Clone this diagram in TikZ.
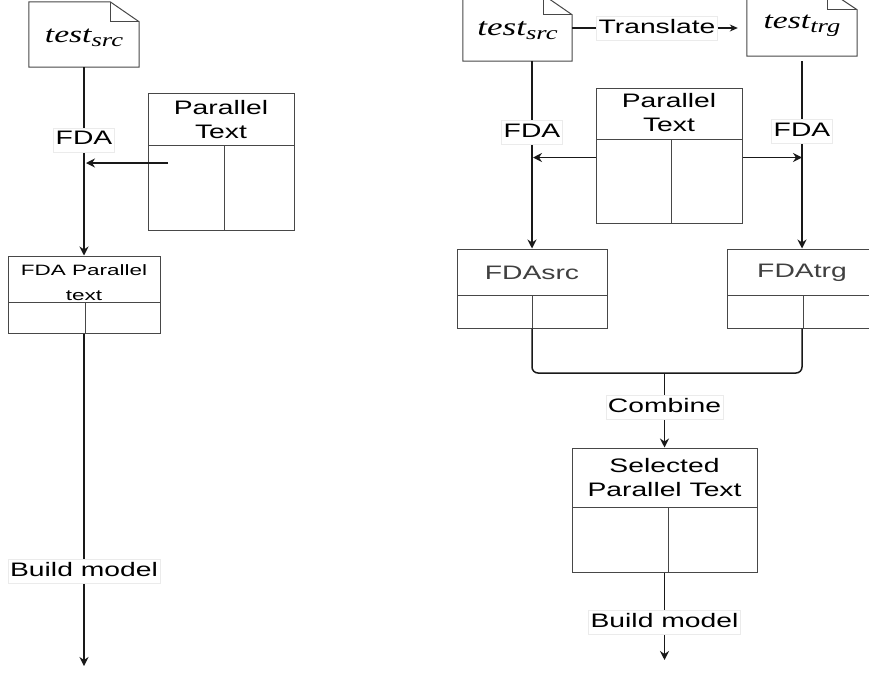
\documentclass[tikz,border=0pt]{standalone}
\usepackage{fontspec}
\usepackage{graphicx}
\usetikzlibrary{arrows.meta}
\newfontfamily\sansA{Liberation Sans}
\newfontfamily\serifA{Liberation Serif}
\newcommand{\hs}[2][1.45]{\scalebox{#1}[1]{#2}}
\newcommand{\tst}[4][1.35]{\hs[#1]{\serifA\itshape\fontsize{#2}{#2}\selectfont test\raisebox{-4pt}{\fontsize{#3}{#3}\selectfont #4}}}
\tikzset{
  conn/.style={line width=1.5pt, draw=black!90},
  arr/.style={conn, -{Stealth[length=9pt,width=9pt]}},
  boxline/.style={draw=black!72, line width=1pt},
  tbl/.style={boxline, rectangle, inner sep=0pt},
  lbl/.style={fill=white, draw=black!8, line width=0.6pt, inner xsep=2pt, inner ysep=2pt,
    text height=15pt, text depth=5pt, font=\sansA\fontsize{19.5}{23.4}\selectfont},
  hdr/.style={inner sep=0pt, font=\sansA\fontsize{19.5}{23.4}\selectfont},
  hdrs/.style={inner sep=0pt, font=\sansA\fontsize{15}{25}\selectfont},
  doc/.style={inner sep=0pt},
}
\begin{document}
\begin{tikzpicture}[x=1pt,y=-1pt]
\useasboundingbox (0,0) rectangle (869,672);
\clip (0,0) rectangle (869,672);

% ---------------- left panel ----------------
\node[doc, minimum width=110pt, minimum height=65pt] (lsrc) at (84,34.5) {};
\node[doc] (lsrct) at (84,38) {\tst[1.4]{24}{19}{src}};
\draw[boxline] (lsrc.south west) -- (lsrc.north west) -- ([xshift=-29pt]lsrc.north east)
  -- ([yshift=-20pt]lsrc.north east) -- (lsrc.south east) -- cycle;
\draw[boxline] ([xshift=-29pt]lsrc.north east) |- ([yshift=-20pt]lsrc.north east);

\node[tbl, minimum width=146pt, minimum height=137pt] (lpt) at (221,161.5) {};
\draw[boxline] (148,145) -- (294,145) (224,145) -- (224,230);
\node[hdr] (lpth) at (221,122) {\hs{\begin{tabular}{@{}c@{}}Parallel\\Text\end{tabular}}};

\node[tbl, minimum width=152pt, minimum height=77pt] (lfpt) at (84,294.5) {};
\draw[boxline] (8,302) -- (160,302) (85,302) -- (85,333);
\node[hdrs] (lfpth) at (84,282.5) {\hs[1.5]{\begin{tabular}{@{}c@{}}FDA Parallel\\text\end{tabular}}};

\draw[arr] (lsrc.south) -- node[lbl, pos=0.386] (lfda) {\hs{FDA}} (lfpt.north);
\coordinate (lptin) at (168,163);
\coordinate (lhit) at (86,163);
\draw[arr, line width=1.2pt] (lptin) -- (lhit);
\coordinate (lend) at (84,666);
\draw[arr] (lfpt.south) -- node[lbl, pos=0.715] (lbm) {\hs{Build model}} (lend);

% ---------------- right panel ----------------
\node[doc, minimum width=109pt, minimum height=66pt] (rsrc) at (517.5,28) {};
\node[doc] (rsrct) at (517.5,31) {\tst[1.4]{25}{19}{src}};
\draw[boxline] (rsrc.south west) -- (rsrc.north west) -- ([xshift=-29pt]rsrc.north east)
  -- ([yshift=-20pt]rsrc.north east) -- (rsrc.south east) -- cycle;
\draw[boxline] ([xshift=-29pt]rsrc.north east) |- ([yshift=-20pt]rsrc.north east);

\node[doc, minimum width=110pt, minimum height=66pt] (rtrg) at (802,23) {};
\node[doc] (rtrgt) at (802,26) {\tst[1.4]{24}{19}{trg}};
\draw[boxline] (rtrg.south west) -- (rtrg.north west) -- ([xshift=-30pt]rtrg.north east)
  -- ([yshift=-20pt]rtrg.north east) -- (rtrg.south east) -- cycle;
\draw[boxline] ([xshift=-30pt]rtrg.north east) |- ([yshift=-20pt]rtrg.north east);

\node[tbl, minimum width=146pt, minimum height=135pt] (rpt) at (669,155.5) {};
\draw[boxline] (596,139) -- (742,139) (671,139) -- (671,223);
\node[hdr] (rpth) at (669,115) {\hs{\begin{tabular}{@{}c@{}}Parallel\\Text\end{tabular}}};

\node[tbl, minimum width=150pt, minimum height=79pt] (fsrc) at (532,288.5) {};
\draw[boxline] (457,295) -- (607,295) (532,295) -- (532,328);
\node[hdr, text=black!75] (fsrct) at (532,273) {\hs{FDAsrc}};

\node[tbl, minimum width=150pt, minimum height=79pt] (ftrg) at (802,288.5) {};
\draw[boxline] (727,295) -- (877,295) (803,295) -- (803,328);
\node[hdr, text=black!75] (ftrgt) at (802,273) {\hs{FDAtrg}};

\draw[arr, line width=1.2pt, -{Stealth[length=8pt,width=7pt]}, shorten >=9pt] (rsrc.east) -- node[lbl, pos=0.486] (trl) {\hs{Translate}} (rtrg.west |- rsrc.east);

\draw[arr] (fsrc.north |- rsrc.south) -- node[lbl, pos=0.38] (rfda1) {\hs{FDA}} (fsrc.north);
\draw[arr, shorten <=5pt] (ftrg.north |- rtrg.south) -- node[lbl, pos=0.39] (rfda2) {\hs{FDA}} (ftrg.north);

\coordinate (ra) at (533,157.5);
\coordinate (rb) at (802,157.5);
\draw[arr, line width=1.2pt] ([yshift=-2pt]rpt.west) -- (ra);
\draw[arr, line width=1.2pt] ([yshift=-2pt]rpt.east) -- (rb);

\coordinate (brk) at (664.5,373);
\draw[conn, rounded corners=6pt] (fsrc.south) |- (brk) -| (ftrg.south);

\node[tbl, minimum width=185pt, minimum height=124pt] (sel) at (664.5,510) {};
\draw[boxline] (572,507) -- (757,507) (668,507) -- (668,572);
\node[hdr] (selh) at (664.5,480) {\hs{\begin{tabular}{@{}c@{}}Selected\\Parallel Text\end{tabular}}};

\draw[arr] (brk) -- node[lbl, pos=0.46] (cmb) {\hs{Combine}} (sel.north);
\coordinate (rend) at (664.5,660);
\draw[arr] (sel.south) -- node[lbl, pos=0.57] (rbm) {\hs{Build model}} (rend);
\end{tikzpicture}
\end{document}
